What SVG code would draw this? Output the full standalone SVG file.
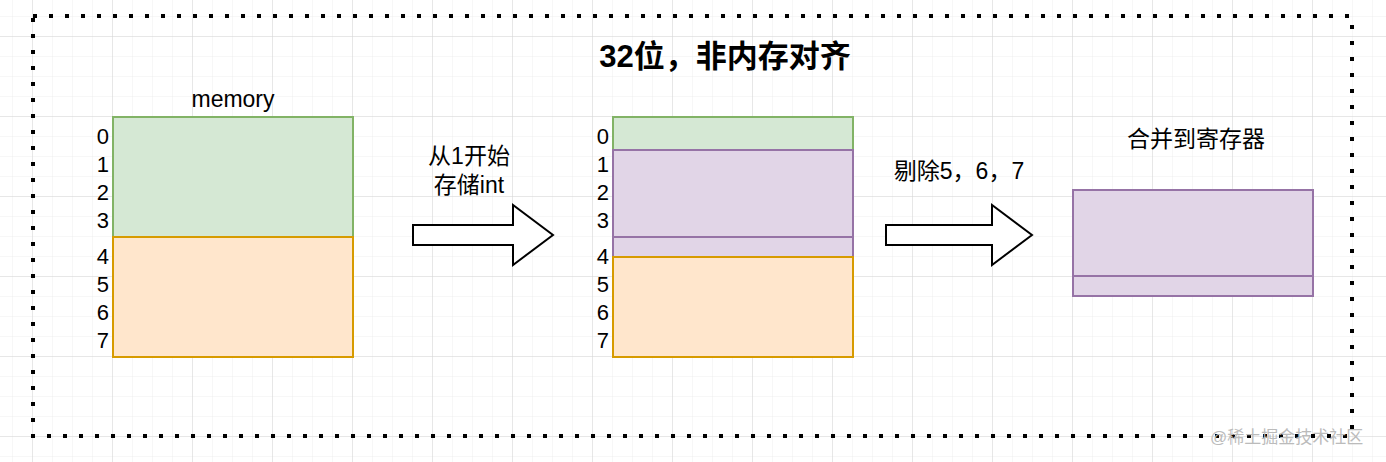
<svg xmlns="http://www.w3.org/2000/svg" width="1386" height="462" viewBox="0 0 1386 462">
<defs>
<pattern id="minor" width="20" height="20" patternUnits="userSpaceOnUse" x="13" y="17"><path d="M20 0V20M0 20H20" fill="none" stroke="#eeeeee" stroke-width="1"/></pattern>
<pattern id="major" width="80" height="80" patternUnits="userSpaceOnUse" x="33" y="37"><path d="M80 0V80M0 80H80" fill="none" stroke="#d6d6d6" stroke-width="1"/></pattern>
</defs>
<style>
text{font-family:"Liberation Sans","Noto Sans CJK SC",sans-serif;fill:#000}
.n{font-size:22px;text-anchor:end}
.l{font-size:23px;text-anchor:middle}
.g{fill:#d5e8d4;stroke:#82b366;stroke-width:2}
.o{fill:#ffe6cc;stroke:#d79b00;stroke-width:2}
.p{fill:#e1d5e7;stroke:#9673a6;stroke-width:2}
.arr{fill:#fff;stroke:#000;stroke-width:2}
</style>
<rect width="1386" height="462" fill="#fff"/>
<rect width="1386" height="462" fill="url(#minor)"/>
<rect width="1386" height="462" fill="url(#major)"/>
<rect x="33" y="16" width="1319" height="420" fill="none" stroke="#000" stroke-width="4" stroke-dasharray="4 12"/>
<text x="725" y="67" style="font-size:31px;font-weight:bold;text-anchor:middle">32位，非内存对齐</text>
<g id="memory">
<text class="l" x="233" y="107">memory</text>
<rect class="g" x="113" y="117" width="240" height="120"/>
<rect class="o" x="113" y="237" width="240" height="120"/>
<text class="n" x="109" y="144">0</text><text class="n" x="109" y="172">1</text><text class="n" x="109" y="200">2</text><text class="n" x="109" y="228">3</text>
<text class="n" x="109" y="264">4</text><text class="n" x="109" y="292">5</text><text class="n" x="109" y="320">6</text><text class="n" x="109" y="348">7</text>
</g>
<g id="stored">
<rect class="g" x="613" y="117" width="240" height="33"/>
<rect class="p" x="613" y="150" width="240" height="87"/>
<rect class="p" x="613" y="237" width="240" height="20"/>
<rect class="o" x="613" y="257" width="240" height="100"/>
<text class="n" x="609" y="144">0</text><text class="n" x="609" y="172">1</text><text class="n" x="609" y="200">2</text><text class="n" x="609" y="228">3</text>
<text class="n" x="609" y="264">4</text><text class="n" x="609" y="292">5</text><text class="n" x="609" y="320">6</text><text class="n" x="609" y="348">7</text>
</g>
<g id="register">
<text class="l" x="1196" y="147">合并到寄存器</text>
<rect class="p" x="1073" y="190" width="240" height="86"/>
<rect class="p" x="1073" y="276" width="240" height="20"/>
</g>
<g id="connectors">
<path class="arr" d="M413 225H513V205L553 235L513 265V245H413Z"/>
<text class="l" x="469" y="164">从1开始</text>
<text class="l" x="469" y="193">存储int</text>
<path class="arr" d="M886 225H992V205L1032 235L992 265V245H886Z"/>
<text class="l" x="959" y="179">剔除5，6，7</text>
</g>
<text x="1210" y="443" style="font-size:17px;fill:#bbbbbb">@稀土掘金技术社区</text>
</svg>
